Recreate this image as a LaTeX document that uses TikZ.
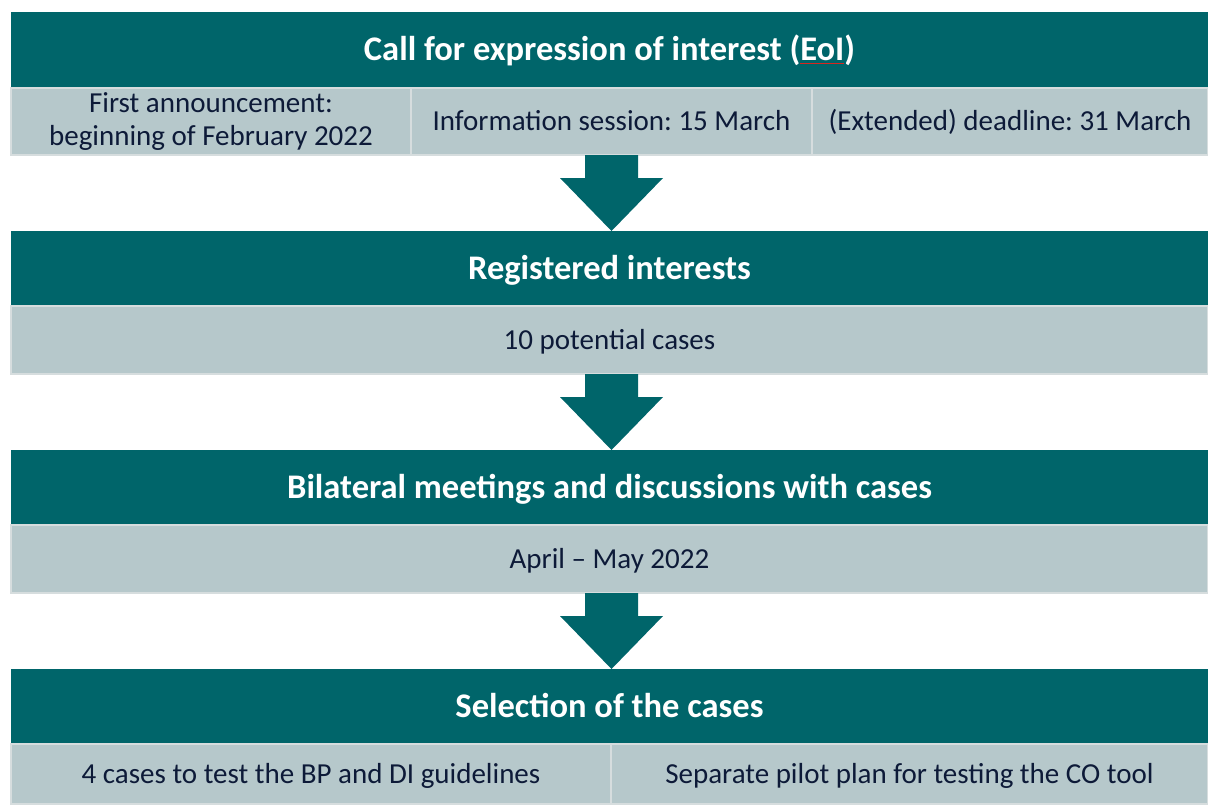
\documentclass[tikz,border=0pt]{standalone}
\usepackage{fontspec}
\setmainfont{Carlito}
\usetikzlibrary{calc}
\definecolor{darkteal}{HTML}{00656A}
\definecolor{lightcell}{HTML}{B6C8CB}
\definecolor{cellline}{HTML}{D6DDDE}
\definecolor{bodytext}{HTML}{0D1A38}
\definecolor{spellred}{rgb}{0.85,0.15,0.12}
\newcommand{\hdrfont}{\fontsize{34.5}{38}\selectfont\bfseries}
\newlength\hwtot \newlength\hwpre \newlength\hweoi
\tikzset{
  hdrbase/.style={fill=darkteal, text=white, anchor=north west, inner sep=0pt, outer sep=0pt,
    minimum width=1197pt, minimum height=75pt, font=\hdrfont},
  hdr/.style={hdrbase, text height=26pt, text depth=3.8pt},
  cellbase/.style={fill=lightcell, draw=cellline, line width=1.5pt, text=bodytext, anchor=north west,
    inner sep=0pt, outer sep=0pt, align=center, font=\fontsize{29}{33.5}\selectfont},
  cell/.style={cellbase, text height=22pt, text depth=3.4pt},
  flowarrow/.style={fill=darkteal},
  spellline/.style={draw=spellred, line width=1.6pt}
}
\newcommand{\stagearrow}[2]{%
  \fill[flowarrow] ($(#1)+(-26.5,0)$) -- ($(#1)+(26.5,0)$) -- ($(#1)+(26.5,23)$) -- ($(#1)+(51.5,23)$)
    -- (#2) -- ($(#1)+(-51.5,23)$) -- ($(#1)+(-26.5,23)$) -- cycle;}
\frenchspacing
\begin{document}
\settowidth\hwtot{\hdrfont Call for expression of interest (EoI)}%
\settowidth\hwpre{\hdrfont Call for expression of interest (}%
\settowidth\hweoi{\hdrfont EoI}%
\begin{tikzpicture}[x=1pt,y=-1pt]
\useasboundingbox (0,0) rectangle (1208,804);
% Stage 1
\node[hdr] (h1) at (11,12) {Call for expression of interest (EoI)};
\node[cellbase, minimum width=400pt, minimum height=67pt] (c11) at (11,88) {First announcement:\\beginning of February 2022};
\node[cell, minimum width=401pt, minimum height=67pt] (c12) at (411,88) {Information session: 15 March};
\node[cell, minimum width=396pt, minimum height=67pt] (c13) at (812,88) {(Extended) deadline: 31 March};
\coordinate (a1s) at (611.5,155);
% Stage 2
\node[hdr] (h2) at (11,231) {Registered interests};
\node[cell, minimum width=1197pt, minimum height=68pt] (c21) at (11,306) {10 potential cases};
% Stage 3
\node[hdr] (h3) at (11,450) {Bilateral meetings and discussions with cases};
\node[cell, minimum width=1197pt, minimum height=68pt] (c31) at (11,525) {April -- May 2022};
% Stage 4
\node[hdr] (h4) at (11,669) {Selection of the cases};
\node[cell, minimum width=600pt, minimum height=60pt] (c41) at (11,744) {4 cases to test the BP and DI guidelines};
\node[cell, minimum width=597pt, minimum height=60pt] (c42) at (611,744) {Separate pilot plan for testing the CO tool};
% arrows
\coordinate (t1) at (a1s |- h2.north);
\stagearrow{a1s}{t1}
\coordinate (a2s) at (a1s |- c21.south);
\coordinate (t2) at (a1s |- h3.north);
\stagearrow{a2s}{t2}
\coordinate (a3s) at (a1s |- c31.south);
\coordinate (t3) at (a1s |- h4.north);
\stagearrow{a3s}{t3}
% spell-check underline under EoI
\coordinate (eoiA) at ($(h1.base)+(-0.5\hwtot+\hwpre,3)$);
\coordinate (eoiB) at ($(eoiA)+(\hweoi,0pt)$);
\draw[spellline] (eoiA) -- (eoiB);
\end{tikzpicture}
\end{document}
